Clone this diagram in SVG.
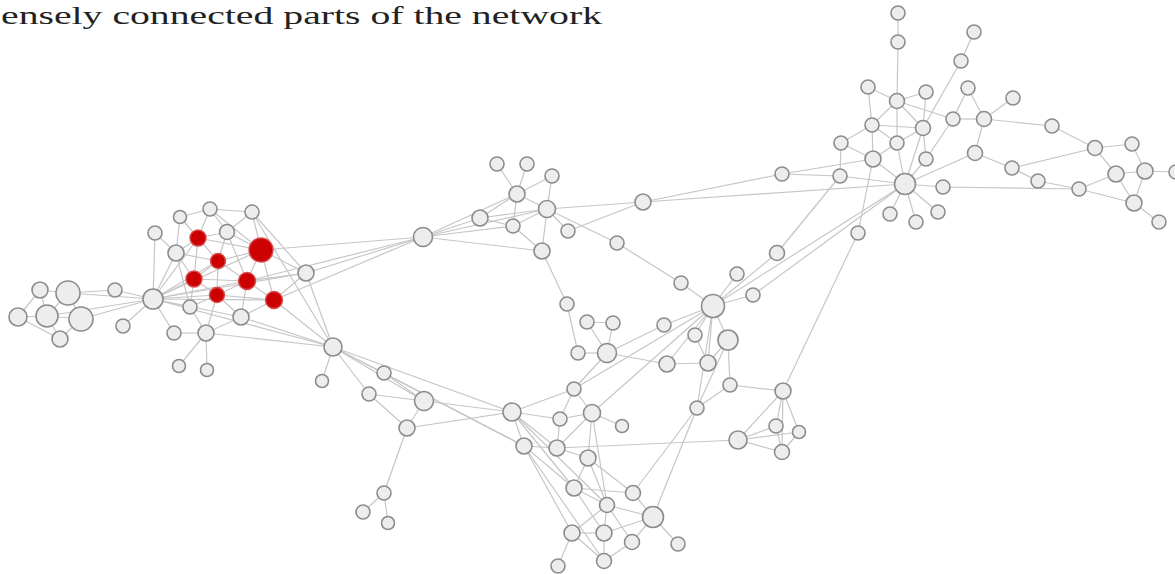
<svg xmlns="http://www.w3.org/2000/svg" width="1175" height="574" viewBox="0 0 1175 574">
<style>
.e line{stroke:#c6c6c6;stroke-width:1.2;fill:none}
.n circle{fill:#ededed;stroke:#8c8c8c;stroke-width:1.6}
.r circle{fill:#cc0000;stroke:#d84a4a;stroke-width:1.4}
.t{font-family:"Liberation Serif","DejaVu Serif",serif;font-size:26px;fill:#222}
</style>
<rect width="1175" height="574" fill="#ffffff"/>
<text class="t" x="1" y="24" textLength="601" lengthAdjust="spacingAndGlyphs">ensely connected parts of the network</text>
<g id="connectors" class="e">
<line x1="40" y1="290" x2="68" y2="293"/><line x1="40" y1="290" x2="47" y2="316"/><line x1="40" y1="290" x2="18" y2="317"/><line x1="68" y1="293" x2="47" y2="316"/><line x1="68" y1="293" x2="81" y2="319"/><line x1="18" y1="317" x2="47" y2="316"/><line x1="47" y1="316" x2="81" y2="319"/><line x1="47" y1="316" x2="60" y2="339"/><line x1="81" y1="319" x2="60" y2="339"/><line x1="18" y1="317" x2="60" y2="339"/><line x1="68" y1="293" x2="153" y2="299"/><line x1="68" y1="293" x2="115" y2="290"/><line x1="81" y1="319" x2="153" y2="299"/><line x1="47" y1="316" x2="153" y2="299"/><line x1="115" y1="290" x2="153" y2="299"/><line x1="123" y1="326" x2="153" y2="299"/>
<line x1="153" y1="299" x2="155" y2="233"/><line x1="153" y1="299" x2="176" y2="253"/><line x1="153" y1="299" x2="198" y2="238"/><line x1="153" y1="299" x2="194" y2="279"/><line x1="153" y1="299" x2="218" y2="261"/><line x1="153" y1="299" x2="217" y2="295"/><line x1="153" y1="299" x2="247" y2="281"/><line x1="153" y1="299" x2="261" y2="250"/><line x1="153" y1="299" x2="274" y2="300"/><line x1="153" y1="299" x2="190" y2="307"/><line x1="153" y1="299" x2="174" y2="333"/><line x1="153" y1="299" x2="241" y2="317"/><line x1="153" y1="299" x2="306" y2="273"/><line x1="153" y1="299" x2="333" y2="347"/>
<line x1="210" y1="209" x2="252" y2="212"/><line x1="210" y1="209" x2="180" y2="217"/><line x1="210" y1="209" x2="198" y2="238"/><line x1="210" y1="209" x2="227" y2="232"/><line x1="210" y1="209" x2="261" y2="250"/><line x1="252" y1="212" x2="227" y2="232"/><line x1="252" y1="212" x2="261" y2="250"/><line x1="252" y1="212" x2="306" y2="273"/><line x1="252" y1="212" x2="333" y2="347"/><line x1="180" y1="217" x2="198" y2="238"/><line x1="180" y1="217" x2="176" y2="253"/><line x1="155" y1="233" x2="176" y2="253"/><line x1="198" y1="238" x2="227" y2="232"/><line x1="198" y1="238" x2="261" y2="250"/><line x1="198" y1="238" x2="176" y2="253"/><line x1="198" y1="238" x2="218" y2="261"/><line x1="198" y1="238" x2="194" y2="279"/><line x1="227" y1="232" x2="261" y2="250"/><line x1="227" y1="232" x2="218" y2="261"/><line x1="227" y1="232" x2="247" y2="281"/><line x1="261" y1="250" x2="218" y2="261"/><line x1="261" y1="250" x2="247" y2="281"/><line x1="261" y1="250" x2="274" y2="300"/><line x1="261" y1="250" x2="306" y2="273"/><line x1="261" y1="250" x2="423" y2="237"/><line x1="176" y1="253" x2="194" y2="279"/><line x1="176" y1="253" x2="218" y2="261"/><line x1="176" y1="253" x2="190" y2="307"/><line x1="218" y1="261" x2="194" y2="279"/><line x1="218" y1="261" x2="247" y2="281"/><line x1="218" y1="261" x2="217" y2="295"/><line x1="194" y1="279" x2="217" y2="295"/><line x1="194" y1="279" x2="247" y2="281"/><line x1="194" y1="279" x2="190" y2="307"/><line x1="247" y1="281" x2="217" y2="295"/><line x1="247" y1="281" x2="274" y2="300"/><line x1="247" y1="281" x2="241" y2="317"/><line x1="247" y1="281" x2="306" y2="273"/><line x1="247" y1="281" x2="423" y2="237"/><line x1="217" y1="295" x2="274" y2="300"/><line x1="217" y1="295" x2="241" y2="317"/><line x1="217" y1="295" x2="206" y2="333"/><line x1="274" y1="300" x2="241" y2="317"/><line x1="274" y1="300" x2="306" y2="273"/><line x1="274" y1="300" x2="333" y2="347"/><line x1="274" y1="300" x2="423" y2="237"/><line x1="190" y1="307" x2="206" y2="333"/><line x1="241" y1="317" x2="206" y2="333"/><line x1="241" y1="317" x2="333" y2="347"/><line x1="174" y1="333" x2="206" y2="333"/><line x1="206" y1="333" x2="179" y2="366"/><line x1="206" y1="333" x2="207" y2="370"/><line x1="217" y1="295" x2="190" y2="307"/><line x1="206" y1="333" x2="333" y2="347"/>
<line x1="306" y1="273" x2="423" y2="237"/><line x1="306" y1="273" x2="333" y2="347"/><line x1="333" y1="347" x2="322" y2="381"/><line x1="333" y1="347" x2="384" y2="373"/><line x1="333" y1="347" x2="369" y2="394"/><line x1="333" y1="347" x2="424" y2="401"/><line x1="333" y1="347" x2="512" y2="412"/><line x1="333" y1="347" x2="524" y2="446"/><line x1="384" y1="373" x2="424" y2="401"/><line x1="384" y1="373" x2="524" y2="446"/><line x1="369" y1="394" x2="424" y2="401"/><line x1="369" y1="394" x2="407" y2="428"/><line x1="424" y1="401" x2="407" y2="428"/><line x1="424" y1="401" x2="512" y2="412"/><line x1="407" y1="428" x2="512" y2="412"/><line x1="407" y1="428" x2="384" y2="493"/><line x1="384" y1="493" x2="363" y2="512"/><line x1="384" y1="493" x2="388" y2="523"/>
<line x1="423" y1="237" x2="517" y2="194"/><line x1="423" y1="237" x2="547" y2="209"/><line x1="423" y1="237" x2="480" y2="218"/><line x1="423" y1="237" x2="513" y2="226"/><line x1="423" y1="237" x2="542" y2="251"/><line x1="497" y1="164" x2="517" y2="194"/><line x1="527" y1="164" x2="517" y2="194"/><line x1="552" y1="176" x2="517" y2="194"/><line x1="552" y1="176" x2="547" y2="209"/><line x1="517" y1="194" x2="547" y2="209"/><line x1="517" y1="194" x2="480" y2="218"/><line x1="517" y1="194" x2="513" y2="226"/><line x1="547" y1="209" x2="480" y2="218"/><line x1="547" y1="209" x2="513" y2="226"/><line x1="547" y1="209" x2="568" y2="231"/><line x1="547" y1="209" x2="542" y2="251"/><line x1="547" y1="209" x2="643" y2="202"/><line x1="547" y1="209" x2="617" y2="243"/><line x1="480" y1="218" x2="513" y2="226"/><line x1="513" y1="226" x2="542" y2="251"/><line x1="568" y1="231" x2="643" y2="202"/><line x1="542" y1="251" x2="567" y2="304"/><line x1="617" y1="243" x2="681" y2="283"/><line x1="681" y1="283" x2="713" y2="306"/>
<line x1="567" y1="304" x2="578" y2="353"/><line x1="587" y1="322" x2="613" y2="323"/><line x1="587" y1="322" x2="607" y2="353"/><line x1="613" y1="323" x2="607" y2="353"/><line x1="578" y1="353" x2="607" y2="353"/><line x1="607" y1="353" x2="664" y2="325"/><line x1="607" y1="353" x2="667" y2="364"/><line x1="664" y1="325" x2="713" y2="306"/><line x1="713" y1="306" x2="737" y2="274"/><line x1="713" y1="306" x2="753" y2="295"/><line x1="713" y1="306" x2="777" y2="253"/><line x1="713" y1="306" x2="695" y2="335"/><line x1="713" y1="306" x2="728" y2="340"/><line x1="713" y1="306" x2="667" y2="364"/><line x1="713" y1="306" x2="708" y2="363"/><line x1="713" y1="306" x2="697" y2="408"/><line x1="713" y1="306" x2="574" y2="389"/><line x1="713" y1="306" x2="592" y2="413"/><line x1="713" y1="306" x2="905" y2="184"/><line x1="753" y1="295" x2="905" y2="184"/><line x1="777" y1="253" x2="840" y2="176"/><line x1="695" y1="335" x2="708" y2="363"/><line x1="728" y1="340" x2="708" y2="363"/><line x1="728" y1="340" x2="730" y2="385"/><line x1="728" y1="340" x2="697" y2="408"/><line x1="667" y1="364" x2="708" y2="363"/><line x1="730" y1="385" x2="697" y2="408"/><line x1="730" y1="385" x2="783" y2="391"/><line x1="858" y1="233" x2="783" y2="391"/><line x1="858" y1="233" x2="873" y2="159"/><line x1="643" y1="202" x2="782" y2="174"/><line x1="643" y1="202" x2="905" y2="184"/><line x1="782" y1="174" x2="840" y2="176"/><line x1="782" y1="174" x2="873" y2="159"/><line x1="574" y1="389" x2="607" y2="353"/>
<line x1="512" y1="412" x2="574" y2="389"/><line x1="512" y1="412" x2="560" y2="419"/><line x1="512" y1="412" x2="524" y2="446"/><line x1="512" y1="412" x2="557" y2="448"/><line x1="512" y1="412" x2="574" y2="488"/><line x1="512" y1="412" x2="607" y2="505"/><line x1="574" y1="389" x2="592" y2="413"/><line x1="574" y1="389" x2="560" y2="419"/><line x1="560" y1="419" x2="592" y2="413"/><line x1="560" y1="419" x2="557" y2="448"/><line x1="592" y1="413" x2="622" y2="426"/><line x1="592" y1="413" x2="588" y2="458"/><line x1="592" y1="413" x2="557" y2="448"/><line x1="592" y1="413" x2="607" y2="505"/><line x1="524" y1="446" x2="557" y2="448"/><line x1="524" y1="446" x2="574" y2="488"/><line x1="524" y1="446" x2="572" y2="533"/><line x1="524" y1="446" x2="604" y2="561"/><line x1="557" y1="448" x2="588" y2="458"/><line x1="557" y1="448" x2="738" y2="440"/><line x1="588" y1="458" x2="574" y2="488"/><line x1="588" y1="458" x2="607" y2="505"/><line x1="588" y1="458" x2="633" y2="493"/><line x1="574" y1="488" x2="633" y2="493"/><line x1="574" y1="488" x2="607" y2="505"/><line x1="574" y1="488" x2="604" y2="533"/><line x1="633" y1="493" x2="653" y2="517"/><line x1="633" y1="493" x2="697" y2="408"/><line x1="653" y1="517" x2="697" y2="408"/><line x1="607" y1="505" x2="653" y2="517"/><line x1="607" y1="505" x2="572" y2="533"/><line x1="607" y1="505" x2="604" y2="533"/><line x1="607" y1="505" x2="632" y2="542"/><line x1="653" y1="517" x2="604" y2="533"/><line x1="653" y1="517" x2="632" y2="542"/><line x1="653" y1="517" x2="678" y2="544"/><line x1="572" y1="533" x2="604" y2="533"/><line x1="572" y1="533" x2="558" y2="566"/><line x1="572" y1="533" x2="604" y2="561"/><line x1="604" y1="533" x2="604" y2="561"/><line x1="632" y1="542" x2="604" y2="561"/><line x1="738" y1="440" x2="783" y2="391"/><line x1="738" y1="440" x2="776" y2="426"/><line x1="738" y1="440" x2="782" y2="452"/><line x1="738" y1="440" x2="799" y2="432"/><line x1="783" y1="391" x2="776" y2="426"/><line x1="783" y1="391" x2="799" y2="432"/><line x1="783" y1="391" x2="782" y2="452"/><line x1="776" y1="426" x2="782" y2="452"/><line x1="799" y1="432" x2="782" y2="452"/>
<line x1="898" y1="13" x2="898" y2="42"/><line x1="898" y1="42" x2="897" y2="101"/><line x1="897" y1="101" x2="897" y2="143"/><line x1="897" y1="143" x2="905" y2="184"/><line x1="974" y1="32" x2="961" y2="61"/><line x1="961" y1="61" x2="923" y2="128"/><line x1="868" y1="87" x2="897" y2="101"/><line x1="868" y1="87" x2="872" y2="125"/><line x1="897" y1="101" x2="926" y2="92"/><line x1="897" y1="101" x2="872" y2="125"/><line x1="897" y1="101" x2="923" y2="128"/><line x1="897" y1="101" x2="953" y2="119"/><line x1="926" y1="92" x2="923" y2="128"/><line x1="968" y1="88" x2="984" y2="119"/><line x1="968" y1="88" x2="953" y2="119"/><line x1="1013" y1="98" x2="984" y2="119"/><line x1="953" y1="119" x2="984" y2="119"/><line x1="984" y1="119" x2="1052" y2="126"/><line x1="984" y1="119" x2="975" y2="153"/><line x1="1052" y1="126" x2="1095" y2="148"/><line x1="1095" y1="148" x2="1132" y2="144"/><line x1="1095" y1="148" x2="1116" y2="174"/><line x1="1095" y1="148" x2="1012" y2="168"/><line x1="1132" y1="144" x2="1145" y2="171"/><line x1="1116" y1="174" x2="1145" y2="171"/><line x1="1145" y1="171" x2="1175" y2="172"/><line x1="1079" y1="189" x2="1116" y2="174"/><line x1="1079" y1="189" x2="1134" y2="203"/><line x1="1116" y1="174" x2="1134" y2="203"/><line x1="1145" y1="171" x2="1134" y2="203"/><line x1="1134" y1="203" x2="1159" y2="222"/><line x1="872" y1="125" x2="923" y2="128"/><line x1="872" y1="125" x2="873" y2="159"/><line x1="872" y1="125" x2="897" y2="143"/><line x1="923" y1="128" x2="897" y2="143"/><line x1="923" y1="128" x2="905" y2="184"/><line x1="923" y1="128" x2="926" y2="159"/><line x1="841" y1="143" x2="873" y2="159"/><line x1="841" y1="143" x2="872" y2="125"/><line x1="897" y1="143" x2="873" y2="159"/><line x1="873" y1="159" x2="905" y2="184"/><line x1="926" y1="159" x2="905" y2="184"/><line x1="975" y1="153" x2="1012" y2="168"/><line x1="975" y1="153" x2="905" y2="184"/><line x1="1012" y1="168" x2="1038" y2="181"/><line x1="905" y1="184" x2="943" y2="187"/><line x1="943" y1="187" x2="1079" y2="189"/><line x1="905" y1="184" x2="890" y2="214"/><line x1="905" y1="184" x2="916" y2="222"/><line x1="905" y1="184" x2="938" y2="212"/><line x1="905" y1="184" x2="840" y2="176"/><line x1="1038" y1="181" x2="1079" y2="189"/><line x1="953" y1="119" x2="926" y2="159"/><line x1="841" y1="143" x2="840" y2="176"/>
</g>
<g id="n1" class="n"><circle cx="40" cy="290" r="8"/></g>
<g id="n2" class="n"><circle cx="68" cy="293" r="12"/></g>
<g id="n3" class="n"><circle cx="18" cy="317" r="9"/></g>
<g id="n4" class="n"><circle cx="47" cy="316" r="11"/></g>
<g id="n5" class="n"><circle cx="81" cy="319" r="12"/></g>
<g id="n6" class="n"><circle cx="60" cy="339" r="8"/></g>
<g id="n7" class="n"><circle cx="115" cy="290" r="7"/></g>
<g id="n8" class="n"><circle cx="123" cy="326" r="7"/></g>
<g id="n9" class="n"><circle cx="153" cy="299" r="10"/></g>
<g id="n10" class="n"><circle cx="210" cy="209" r="7"/></g>
<g id="n11" class="n"><circle cx="252" cy="212" r="7"/></g>
<g id="n12" class="n"><circle cx="180" cy="217" r="6.5"/></g>
<g id="n13" class="n"><circle cx="155" cy="233" r="7"/></g>
<g id="n14" class="r"><circle cx="198" cy="238" r="8"/></g>
<g id="n15" class="n"><circle cx="227" cy="232" r="7.5"/></g>
<g id="n16" class="r"><circle cx="261" cy="250" r="12"/></g>
<g id="n17" class="n"><circle cx="176" cy="253" r="8"/></g>
<g id="n18" class="r"><circle cx="218" cy="261" r="7.5"/></g>
<g id="n19" class="r"><circle cx="194" cy="279" r="8"/></g>
<g id="n20" class="r"><circle cx="247" cy="281" r="8.5"/></g>
<g id="n21" class="r"><circle cx="217" cy="295" r="7.5"/></g>
<g id="n22" class="r"><circle cx="274" cy="300" r="8.5"/></g>
<g id="n23" class="n"><circle cx="190" cy="307" r="7"/></g>
<g id="n24" class="n"><circle cx="241" cy="317" r="8"/></g>
<g id="n25" class="n"><circle cx="174" cy="333" r="7"/></g>
<g id="n26" class="n"><circle cx="206" cy="333" r="8"/></g>
<g id="n27" class="n"><circle cx="179" cy="366" r="6.5"/></g>
<g id="n28" class="n"><circle cx="207" cy="370" r="6.5"/></g>
<g id="n29" class="n"><circle cx="306" cy="273" r="8"/></g>
<g id="n30" class="n"><circle cx="333" cy="347" r="9"/></g>
<g id="n31" class="n"><circle cx="322" cy="381" r="6.5"/></g>
<g id="n32" class="n"><circle cx="423" cy="237" r="9.5"/></g>
<g id="n33" class="n"><circle cx="497" cy="164" r="7"/></g>
<g id="n34" class="n"><circle cx="527" cy="164" r="7"/></g>
<g id="n35" class="n"><circle cx="552" cy="176" r="7"/></g>
<g id="n36" class="n"><circle cx="517" cy="194" r="8"/></g>
<g id="n37" class="n"><circle cx="547" cy="209" r="8.5"/></g>
<g id="n38" class="n"><circle cx="480" cy="218" r="8"/></g>
<g id="n39" class="n"><circle cx="513" cy="226" r="7"/></g>
<g id="n40" class="n"><circle cx="568" cy="231" r="7"/></g>
<g id="n41" class="n"><circle cx="542" cy="251" r="8"/></g>
<g id="n42" class="n"><circle cx="643" cy="202" r="8"/></g>
<g id="n43" class="n"><circle cx="617" cy="243" r="7"/></g>
<g id="n44" class="n"><circle cx="567" cy="304" r="7"/></g>
<g id="n45" class="n"><circle cx="587" cy="322" r="7"/></g>
<g id="n46" class="n"><circle cx="613" cy="323" r="7"/></g>
<g id="n47" class="n"><circle cx="578" cy="353" r="7"/></g>
<g id="n48" class="n"><circle cx="607" cy="353" r="9.5"/></g>
<g id="n49" class="n"><circle cx="664" cy="325" r="7"/></g>
<g id="n50" class="n"><circle cx="681" cy="283" r="7"/></g>
<g id="n51" class="n"><circle cx="713" cy="306" r="11.5"/></g>
<g id="n52" class="n"><circle cx="737" cy="274" r="7"/></g>
<g id="n53" class="n"><circle cx="753" cy="295" r="7"/></g>
<g id="n54" class="n"><circle cx="777" cy="253" r="7.5"/></g>
<g id="n55" class="n"><circle cx="695" cy="335" r="7"/></g>
<g id="n56" class="n"><circle cx="728" cy="340" r="10"/></g>
<g id="n57" class="n"><circle cx="667" cy="364" r="8"/></g>
<g id="n58" class="n"><circle cx="708" cy="363" r="8"/></g>
<g id="n59" class="n"><circle cx="730" cy="385" r="7"/></g>
<g id="n60" class="n"><circle cx="697" cy="408" r="7"/></g>
<g id="n61" class="n"><circle cx="783" cy="391" r="8"/></g>
<g id="n62" class="n"><circle cx="858" cy="233" r="7"/></g>
<g id="n63" class="n"><circle cx="384" cy="373" r="7"/></g>
<g id="n64" class="n"><circle cx="369" cy="394" r="7"/></g>
<g id="n65" class="n"><circle cx="424" cy="401" r="9.5"/></g>
<g id="n66" class="n"><circle cx="407" cy="428" r="8"/></g>
<g id="n67" class="n"><circle cx="384" cy="493" r="7"/></g>
<g id="n68" class="n"><circle cx="363" cy="512" r="7"/></g>
<g id="n69" class="n"><circle cx="388" cy="523" r="6.5"/></g>
<g id="n70" class="n"><circle cx="512" cy="412" r="9"/></g>
<g id="n71" class="n"><circle cx="574" cy="389" r="7"/></g>
<g id="n72" class="n"><circle cx="560" cy="419" r="7"/></g>
<g id="n73" class="n"><circle cx="592" cy="413" r="8.5"/></g>
<g id="n74" class="n"><circle cx="622" cy="426" r="6.5"/></g>
<g id="n75" class="n"><circle cx="524" cy="446" r="8"/></g>
<g id="n76" class="n"><circle cx="557" cy="448" r="8"/></g>
<g id="n77" class="n"><circle cx="588" cy="458" r="8"/></g>
<g id="n78" class="n"><circle cx="574" cy="488" r="8"/></g>
<g id="n79" class="n"><circle cx="633" cy="493" r="7.5"/></g>
<g id="n80" class="n"><circle cx="607" cy="505" r="7.5"/></g>
<g id="n81" class="n"><circle cx="653" cy="517" r="10.5"/></g>
<g id="n82" class="n"><circle cx="572" cy="533" r="8"/></g>
<g id="n83" class="n"><circle cx="604" cy="533" r="8"/></g>
<g id="n84" class="n"><circle cx="632" cy="542" r="7.5"/></g>
<g id="n85" class="n"><circle cx="678" cy="544" r="7"/></g>
<g id="n86" class="n"><circle cx="558" cy="566" r="7"/></g>
<g id="n87" class="n"><circle cx="604" cy="561" r="7.5"/></g>
<g id="n88" class="n"><circle cx="738" cy="440" r="9"/></g>
<g id="n89" class="n"><circle cx="776" cy="426" r="7"/></g>
<g id="n90" class="n"><circle cx="799" cy="432" r="6.5"/></g>
<g id="n91" class="n"><circle cx="782" cy="452" r="7.5"/></g>
<g id="n92" class="n"><circle cx="898" cy="13" r="7"/></g>
<g id="n93" class="n"><circle cx="898" cy="42" r="7"/></g>
<g id="n94" class="n"><circle cx="974" cy="32" r="7"/></g>
<g id="n95" class="n"><circle cx="961" cy="61" r="7"/></g>
<g id="n96" class="n"><circle cx="868" cy="87" r="7"/></g>
<g id="n97" class="n"><circle cx="897" cy="101" r="7.5"/></g>
<g id="n98" class="n"><circle cx="926" cy="92" r="7"/></g>
<g id="n99" class="n"><circle cx="968" cy="88" r="7"/></g>
<g id="n100" class="n"><circle cx="1013" cy="98" r="7"/></g>
<g id="n101" class="n"><circle cx="872" cy="125" r="7"/></g>
<g id="n102" class="n"><circle cx="923" cy="128" r="7.5"/></g>
<g id="n103" class="n"><circle cx="953" cy="119" r="7"/></g>
<g id="n104" class="n"><circle cx="984" cy="119" r="7.5"/></g>
<g id="n105" class="n"><circle cx="1052" cy="126" r="7"/></g>
<g id="n106" class="n"><circle cx="841" cy="143" r="7"/></g>
<g id="n107" class="n"><circle cx="897" cy="143" r="7"/></g>
<g id="n108" class="n"><circle cx="873" cy="159" r="8"/></g>
<g id="n109" class="n"><circle cx="926" cy="159" r="7"/></g>
<g id="n110" class="n"><circle cx="975" cy="153" r="7.5"/></g>
<g id="n111" class="n"><circle cx="1095" cy="148" r="7.5"/></g>
<g id="n112" class="n"><circle cx="1132" cy="144" r="7"/></g>
<g id="n113" class="n"><circle cx="782" cy="174" r="7"/></g>
<g id="n114" class="n"><circle cx="840" cy="176" r="7"/></g>
<g id="n115" class="n"><circle cx="905" cy="184" r="10.5"/></g>
<g id="n116" class="n"><circle cx="943" cy="187" r="7"/></g>
<g id="n117" class="n"><circle cx="1012" cy="168" r="7"/></g>
<g id="n118" class="n"><circle cx="1038" cy="181" r="7"/></g>
<g id="n119" class="n"><circle cx="1079" cy="189" r="7"/></g>
<g id="n120" class="n"><circle cx="1116" cy="174" r="8"/></g>
<g id="n121" class="n"><circle cx="1145" cy="171" r="8"/></g>
<g id="n122" class="n"><circle cx="1176" cy="172" r="7"/></g>
<g id="n123" class="n"><circle cx="1134" cy="203" r="8"/></g>
<g id="n124" class="n"><circle cx="1159" cy="222" r="7"/></g>
<g id="n125" class="n"><circle cx="890" cy="214" r="7"/></g>
<g id="n126" class="n"><circle cx="916" cy="222" r="7"/></g>
<g id="n127" class="n"><circle cx="938" cy="212" r="7"/></g>
</svg>
